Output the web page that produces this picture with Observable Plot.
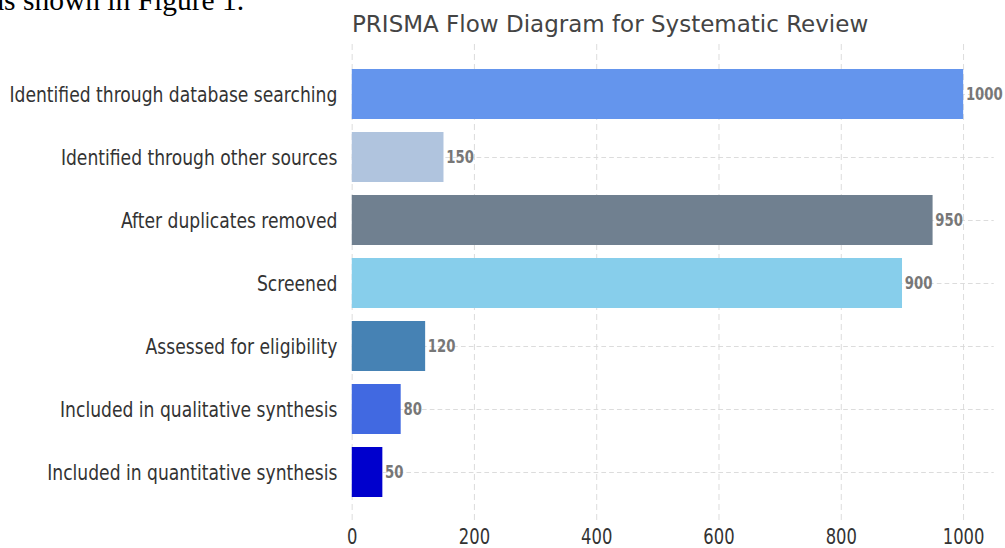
<!DOCTYPE html>
<html><head><meta charset="utf-8">
<script src="https://cdn.jsdelivr.net/npm/d3@7"></script>
<script src="https://cdn.jsdelivr.net/npm/@observablehq/plot@0.6"></script>
<style>
html,body{margin:0;padding:0;background:#fff;overflow:hidden}
#wrap{position:relative;width:1005px;height:548px;overflow:hidden}
#chart{position:absolute;left:0;top:0;width:1288px;height:548px;transform:scaleX(0.78);transform-origin:0 0}
#frag{position:absolute;left:-9px;top:-14px;font-family:"Liberation Serif","Times New Roman",serif;font-size:29.5px;line-height:1;color:#000;white-space:nowrap}
#title{position:absolute;left:352px;top:13px;font-family:"DejaVu Sans",sans-serif;font-size:23px;line-height:1;color:#444;white-space:nowrap}
</style></head><body>
<div id="wrap"><div id="chart"></div><div id="frag">as shown in Figure 1.</div><div id="title">PRISMA Flow Diagram for Systematic Review</div></div>
<script>
const stages = ["Identified through database searching","Identified through other sources","After duplicates removed","Screened","Assessed for eligibility","Included in qualitative synthesis","Included in quantitative synthesis"];
const counts = [1000,150,950,900,120,80,50];
const barColors = ["#6495ED","#B0C4DE","#708090","#87CEEB","#4682B4","#4169E1","#0000CD"];
const xTicks = [0,200,400,600,800,1000];
const xMax = 1050;

const data = stages.map((stage,i)=>({stage,count:counts[i]}));

const chart = Plot.plot({
  width:1288, height:548,
  marginLeft:451, marginRight:14, marginTop:44, marginBottom:26,
  style:{fontFamily:"'DejaVu Sans', sans-serif", fontSize:"22px", color:"#333", background:"transparent", overflow:"visible"},
  x:{domain:[0,xMax]},
  y:{domain:stages, padding:0.2, inset:10},
  color:{domain:stages, range:barColors},
  marks:[
    Plot.gridX(xTicks,{stroke:"#d8d8d8", strokeOpacity:1, strokeDasharray:"6,4", strokeWidth:1}),
    Plot.gridY(stages,{stroke:"#d8d8d8", strokeOpacity:1, strokeDasharray:"6,4"}),
    Plot.barX(data,{x:"count", y:"stage", fill:"stage"}),
    Plot.text(data,{x:"count", y:"stage", text:d=>String(d.count), textAnchor:"start", dx:3, fill:"#777", fontWeight:"bold", fontSize:17}),
    Plot.axisX(xTicks,{tickSize:0, tickPadding:7, fontSize:21, label:null, fill:"#333", tickFormat:d3.format("d")}),
    Plot.axisY({tickSize:0, tickPadding:19, fontSize:22, label:null, fill:"#333"})
  ]
});
document.getElementById("chart").appendChild(chart);
</script>
</body></html>
